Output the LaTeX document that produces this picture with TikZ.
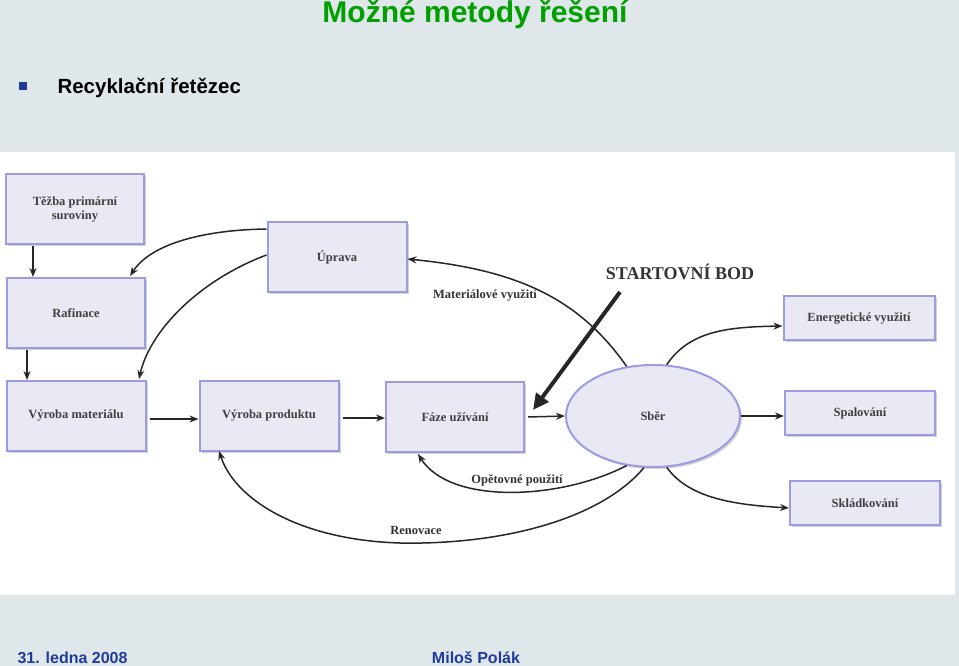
\documentclass[tikz,border=0pt]{standalone}
\usepackage{fontspec}
\setmainfont{Liberation Serif}
\newfontfamily\slidefont{Liberation Sans}
\usetikzlibrary{shadows,arrows.meta,shapes.geometric}
\definecolor{slidebg}{HTML}{DFE7EA}
\definecolor{boxfill}{HTML}{E9E9F3}
\definecolor{boxdraw}{HTML}{9C9CE4}
\definecolor{titlegreen}{HTML}{00A000}
\definecolor{footblue}{HTML}{1F3C99}
\begin{document}
\begin{tikzpicture}[x=1pt,y=-1pt,
  box/.style={draw=boxdraw,line width=2pt,fill=boxfill,drop shadow={shadow xshift=2pt,shadow yshift=-2pt,opacity=0.35},font=\bfseries\fontsize{12.5}{14}\selectfont,text=black!75,align=center},
  conn/.style={-{Stealth[length=9pt,width=7pt]},line width=1.5pt,black!85},
  lbl/.style={font=\bfseries\fontsize{12.5}{14}\selectfont,text=black!80}]
\fill[slidebg] (0,0) rectangle (959,666);
\useasboundingbox (0,0) rectangle (959,666);
\fill[white] (0,152) rectangle (955,595);
\node[font=\slidefont\bfseries\fontsize{30}{34}\selectfont,text=titlegreen] (title) at (475,14) {Možné metody řešení};
\node[fill=footblue,minimum size=8pt,inner sep=0pt] (bul) at (23,86) {};
\node[anchor=west,font=\slidefont\bfseries\fontsize{20.5}{24}\selectfont] (sub) at (54,88) {Recyklační řetězec};
\node[anchor=west,font=\slidefont\bfseries\fontsize{16}{18}\selectfont,text=footblue] (date) at (14,658) {31. ledna 2008};
\node[font=\slidefont\bfseries\fontsize{16}{18}\selectfont,text=footblue] (auth) at (476,658) {Miloš Polák};

\node[box,minimum width=138pt,minimum height=70pt] (tezba) at (75,209) {Těžba primární\\suroviny};
\node[box,minimum width=138pt,minimum height=70pt] (raf) at (76,313) {Rafinace};
\node[box,minimum width=139pt,minimum height=70pt] (vm) at (76,416) {Výroba materiálu};
\node[box,minimum width=139pt,minimum height=70pt] (vp) at (269,416) {Výroba produktu};
\node[box,minimum width=138pt,minimum height=70pt] (fu) at (455,417) {Fáze užívání};
\node[box,minimum width=139pt,minimum height=70pt] (up) at (337,257) {Úprava};
\node[box,ellipse,minimum width=174pt,minimum height=102pt] (sber) at (653,416) {Sběr};
\node[box,minimum width=151pt,minimum height=44pt] (en) at (859,318) {Energetické využití};
\node[box,minimum width=150pt,minimum height=44pt] (sp) at (860,413) {Spalování};
\node[box,minimum width=150pt,minimum height=44pt] (sk) at (865,503) {Skládkování};
\coordinate (startend) at (533,410);

\draw[conn] (33,246) -- (raf.north -| 33,0);
\draw[conn] (27,350) -- (vm.north -| 27,0);
\draw[conn] (150,419) -- (vp.west |- 0,419);
\draw[conn] (343,418) -- (fu.west |- 0,418);
\draw[conn] (528,417) -- (sber.west);
\draw[conn] (sber.east) -- (sp.west |- sber.east);
\draw[conn] (sber.75) .. controls (690,330) and (730,327) .. (en.west |- 0,326);
\draw[conn] (sber.-75) .. controls (690,500) and (740,505) .. (sk.west |- 0,508);
\draw[conn] (sber.118) .. controls (580,300) and (520,270) .. (up.east |- 0,259);
\draw[conn] (up.west |- 0,229) .. controls (200,230) and (150,245) .. (130,276);
\draw[conn] (up.west |- 0,255) .. controls (200,280) and (150,330) .. (139,379);
\draw[conn] (sber.-118) .. controls (560,500) and (450,505) .. (418,454);
\draw[conn] (sber.-100) .. controls (600,520) and (500,545) .. (400,543) .. controls (300,540) and (235,500) .. (219,451);
\node[lbl] (lmat) at (485,295) {Materiálové využití};
\node[lbl] (lop) at (517,480) {Opětovné použití};
\node[lbl] (lren) at (416,530) {Renovace};
\node[font=\bfseries\fontsize{18}{20}\selectfont,text=black!80] (start) at (680,272) {STARTOVNÍ BOD};
\draw[-{Triangle[length=16pt,width=15pt]},line width=4pt,black!85] (620,292) -- (startend);
\end{tikzpicture}
\end{document}
